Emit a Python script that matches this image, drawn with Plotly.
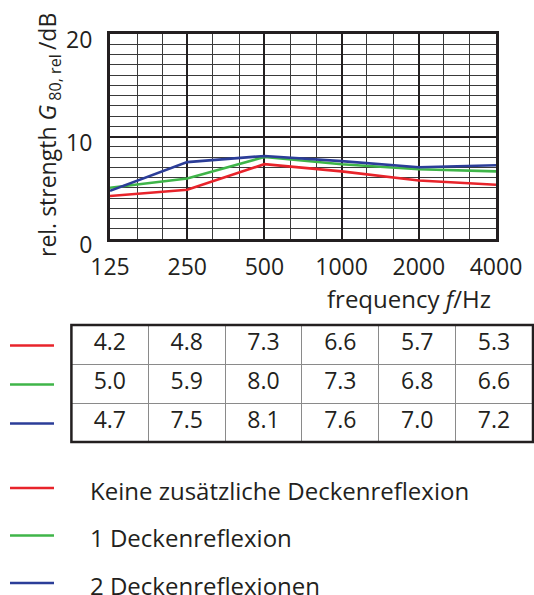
import plotly.graph_objects as go

# ---- data ----
freqs = [125, 250, 500, 1000, 2000, 4000]
freq_labels = ["125", "250", "500", "1000", "2000", "4000"]
third_octaves = [160, 200, 315, 400, 630, 800, 1250, 1600, 2500, 3150]
series_names = ["Keine zusätzliche Deckenreflexion", "1 Deckenreflexion", "2 Deckenreflexionen"]
red_vals = [4.2, 4.8, 7.3, 6.6, 5.7, 5.3]
green_vals = [5.0, 5.9, 8.0, 7.3, 6.8, 6.6]
blue_vals = [4.7, 7.5, 8.1, 7.6, 7.0, 7.2]
colors = ["#e8242b", "#3fb549", "#2b3d98"]

W, H = 534, 595
FONT = "Open Sans"
TXT = "#231f20"

def px(x):
    return x / W

def py(y):
    return 1 - y / H

# layout geometry (pixels)
plot_l, plot_r, plot_t, plot_b = 110, 496, 34, 239
col_w = (plot_r - plot_l) / 5
tab_l = plot_l - col_w / 2
tab_r = min(plot_r + col_w / 2, W - 1)
tab_t = 325
row_h = 39
tab_b = tab_t + 3 * row_h

fig = go.Figure()
for vals, name, c in zip([red_vals, green_vals, blue_vals], series_names, colors):
    fig.add_trace(go.Scatter(x=freqs, y=vals, mode="lines", name=name,
                             line=dict(color=c, width=2.6), showlegend=False))

fmt = lambda v: f"{v:.1f}"
fig.add_trace(go.Table(
    domain=dict(x=[px(tab_l), px(tab_r)], y=[py(tab_b), py(tab_t)]),
    columnwidth=[1] * 6,
    header=dict(values=[fmt(v) for v in red_vals], height=row_h, align="center",
                fill_color="white", line=dict(color="#8a8a8a", width=1),
                font=dict(family=FONT, size=23, color=TXT)),
    cells=dict(values=[[fmt(g), fmt(b)] for g, b in zip(green_vals, blue_vals)],
               height=row_h, align="center", fill_color="white",
               line=dict(color="#8a8a8a", width=1),
               font=dict(family=FONT, size=23, color=TXT)),
))

shapes = [dict(type="rect", xref="paper", yref="paper",
               x0=px(tab_l), x1=px(tab_r), y0=py(tab_b), y1=py(tab_t),
               line=dict(color="#231f20", width=2.5), layer="above")]
annotations = []
# swatches next to table rows
for i, c in enumerate(colors):
    yc = tab_t + row_h * (i + 0.5) + 1
    shapes.append(dict(type="line", xref="paper", yref="paper", x0=px(10), x1=px(54),
                       y0=py(yc), y1=py(yc), line=dict(color=c, width=2.5)))
# bottom legend
leg_y0, leg_dy = 488, 47.5
for i, (c, name) in enumerate(zip(colors, series_names)):
    yc = leg_y0 + i * leg_dy
    shapes.append(dict(type="line", xref="paper", yref="paper", x0=px(10), x1=px(54),
                       y0=py(yc), y1=py(yc), line=dict(color=c, width=2.5)))
    annotations.append(dict(text=name, xref="paper", yref="paper", x=px(88), y=py(yc + 2),
                            xanchor="left", yanchor="middle", showarrow=False,
                            font=dict(family=FONT, size=24, color=TXT)))

annotations.append(dict(text="rel. strength <i>G</i><sub> 80, rel </sub>/dB", xref="paper", yref="paper",
                        x=px(49), y=py(135), textangle=-90, showarrow=False,
                        xanchor="center", yanchor="middle",
                        font=dict(family=FONT, size=23, color=TXT)))
annotations.append(dict(text="frequency <i>f</i>/Hz", xref="paper", yref="paper",
                        x=px(493), y=py(298), xanchor="right", yanchor="middle", showarrow=False,
                        font=dict(family=FONT, size=24, color=TXT)))

fig.update_layout(
    width=W, height=H, margin=dict(l=0, r=0, t=0, b=0, autoexpand=False),
    paper_bgcolor="white", plot_bgcolor="white",
    font=dict(family=FONT, color=TXT),
    shapes=shapes, annotations=annotations,
    xaxis=dict(type="log", domain=[px(plot_l), px(plot_r)], automargin=False,
               range=[2.0969100130080562, 3.6020599913279625],
               tickmode="array", tickvals=freqs, ticktext=freq_labels,
               showgrid=True, gridcolor="#231f20", gridwidth=2.2,
               minor=dict(tickmode="array", tickvals=third_octaves, showgrid=True,
                          gridcolor="#3a3a3a", gridwidth=1, ticks=""),
               showline=True, mirror=True, linecolor="#231f20", linewidth=3,
               ticks="", ticklabelstandoff=5,
               tickfont=dict(family=FONT, size=23, color=TXT), zeroline=False),
    yaxis=dict(domain=[py(plot_b), py(plot_t)], range=[0, 20], automargin=False,
               tickmode="array", tickvals=[0, 10, 20], ticktext=["0", "10", "20"],
               showgrid=True, gridcolor="#231f20", gridwidth=2.2,
               minor=dict(dtick=1, showgrid=True, gridcolor="#3a3a3a", gridwidth=1, ticks=""),
               showline=True, mirror=True, linecolor="#231f20", linewidth=3,
               ticks="", ticklabelstandoff=10, ticklabelshift=6,
               tickfont=dict(family=FONT, size=23, color=TXT), zeroline=False),
)

fig.write_html("out.html")
